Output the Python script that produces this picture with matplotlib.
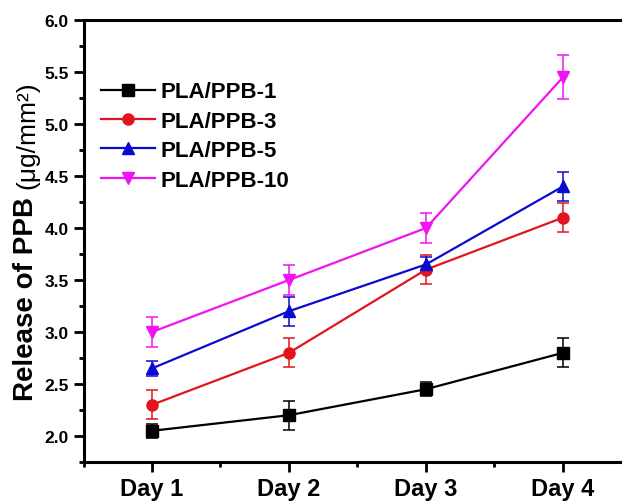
import matplotlib
matplotlib.use("Agg")
import matplotlib.pyplot as plt
from matplotlib.ticker import MultipleLocator
from matplotlib.lines import Line2D

days = ["Day 1", "Day 2", "Day 3", "Day 4"]
labels = ["PLA/PPB-1", "PLA/PPB-3", "PLA/PPB-5", "PLA/PPB-10"]
ppb1 = [2.05, 2.20, 2.45, 2.80]
ppb1_err = [0.07, 0.14, 0.07, 0.14]
ppb3 = [2.30, 2.80, 3.60, 4.10]
ppb3_err = [0.14, 0.14, 0.14, 0.14]
ppb5 = [2.65, 3.20, 3.65, 4.40]
ppb5_err = [0.07, 0.14, 0.07, 0.14]
ppb10 = [3.00, 3.50, 4.00, 5.45]
ppb10_err = [0.14, 0.14, 0.14, 0.21]

series = [ppb1, ppb3, ppb5, ppb10]
errs = [ppb1_err, ppb3_err, ppb5_err, ppb10_err]
colors = ["black", "#e3141c", "#0a0ad0", "#f014f0"]
markers = ["s", "o", "^", "v"]

plt.rcParams['font.family'] = ['Liberation Sans', 'DejaVu Sans']
fig = plt.figure(figsize=(6.22, 5.02), dpi=100)
W, H = 622, 502
ax = fig.add_axes([83.5 / W, 39 / H, 548 / W, 442 / H])

x = [1, 2, 3, 4]
handles = []
for y, e, c, m, lab in zip(series, errs, colors, markers, labels):
    ax.errorbar(x, y, yerr=e, color=c, marker=m, markersize=8, lw=1.6,
                elinewidth=1.1, capsize=4.5, capthick=1.1)
    handles.append(Line2D([], [], color=c, marker=m, markersize=8, lw=1.6, label=lab))

ax.set_xlim(0.5, 4.5)
ax.set_ylim(1.75, 6.0)
ax.set_xticks(x)
ax.set_xticklabels(days)
ax.xaxis.set_minor_locator(MultipleLocator(0.5))
ax.yaxis.set_major_locator(MultipleLocator(0.5))
ax.yaxis.set_minor_locator(MultipleLocator(0.25))
ax.tick_params(which='major', direction='out', length=7, width=2)
ax.tick_params(which='minor', direction='out', length=3.5, width=2)
ax.tick_params(axis='x', labelsize=17, pad=4)
ax.tick_params(axis='y', labelsize=12.5, pad=3.5)
for t in ax.get_xticklabels() + ax.get_yticklabels():
    t.set_fontweight('bold')
for s in ax.spines.values():
    s.set_linewidth(2.2)

leg = ax.legend(handles=handles, loc='upper left',
                bbox_to_anchor=(4 / 548, 1 - 48 / 442), frameon=False,
                prop={'weight': 'bold', 'size': 16}, handlelength=2.45,
                labelspacing=0.38, handletextpad=0.25, borderaxespad=0.2)

# y label: bold part + regular part
fig.canvas.draw()
r = fig.canvas.get_renderer()
t1 = fig.text(26 / W, (H - 401) / H, "Release of PPB ", rotation=90, fontsize=20,
              fontweight='bold', ha='center', va='bottom')
bb = t1.get_window_extent(renderer=r)
fig.text(27 / W, bb.y1 / H, "(\u03bcg/mm\u00b2)", rotation=90, fontsize=19,
         ha='center', va='bottom')

fig.savefig("out.png", dpi=100)
